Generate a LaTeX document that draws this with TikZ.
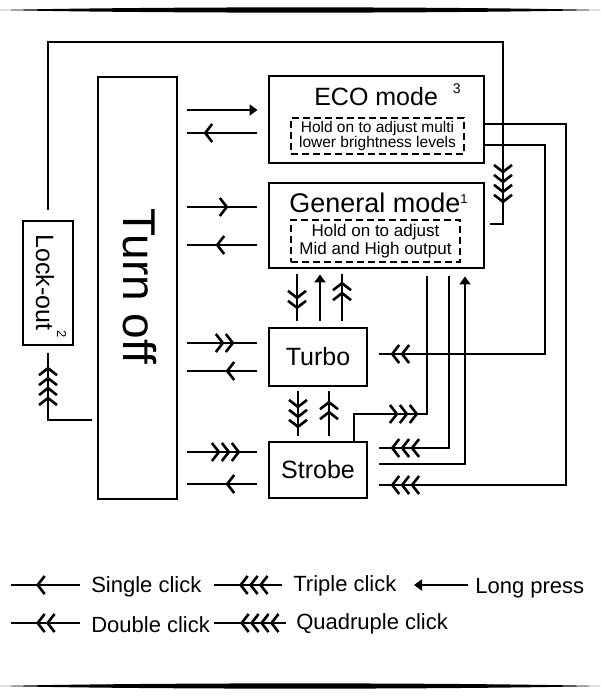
\documentclass[tikz,border=0pt]{standalone}
\usepackage{fontspec}
\setmainfont{Liberation Sans}
\usetikzlibrary{arrows.meta,decorations.markings}

\tikzset{
  box/.style={draw,line width=2.9pt,inner sep=0pt},
  hold/.style={draw,dash pattern=on 7pt off 4pt,line width=2.6pt,align=center,inner sep=0pt},
  clk/.style 2 args={postaction={decorate,decoration={markings,mark=at position #1 with {\arrow{#2}}}}},
  lp/.style={-{Triangle[length=8pt,width=11pt]}},
  fw/.style={shorten <=9pt,shorten >=11pt},
  bw/.style={shorten <=11pt,shorten >=9pt},
  legend/.style={anchor=base west,inner sep=0pt,font=\fontsize{22}{26}\selectfont},
}

\begin{document}
\begin{tikzpicture}[x=1pt,y=-1pt,line width=2.6pt,>={Straight Barb[length=7pt,width=18pt,sep=0pt]}]
\useasboundingbox (0,0) rectangle (600,696);
% rules
\fill (0,10) .. controls (150,6.5) and (450,6.5) .. (600,10) .. controls (450,13.5) and (150,13.5) .. (0,10) -- cycle;
\fill (0,686) .. controls (150,682.5) and (450,682.5) .. (600,686) .. controls (450,689.5) and (150,689.5) .. (0,686) -- cycle;

% boxes
\node[box,minimum width=79pt,minimum height=422pt] (turnoff) at (137.5,288) {};
\node[rotate=-90,anchor=base west,inner sep=0pt,font=\fontsize{46}{50}\selectfont] (toff) at (123,207) {Turn off};
\node[box,minimum width=50pt,minimum height=124pt] (lockout) at (48,283) {};
\node[rotate=-90,anchor=base west,inner sep=0pt,font=\fontsize{25}{30}\selectfont] (lock) at (36,233) {Lock-out\raisebox{21pt}{\fontsize{13}{13}\selectfont 2}};
\node[box,minimum width=215pt,minimum height=87pt] (eco) at (376.5,119.5) {};
\node[anchor=base west,inner sep=0pt,font=\fontsize{25}{30}\selectfont] (ecot) at (313,105) {ECO mode\hspace{15pt}\raisebox{12pt}{\fontsize{14}{14}\selectfont 3}};
\node[hold,minimum width=173pt,minimum height=36pt,font=\fontsize{15.5}{14.5}\selectfont] (ecoh) at (377.5,136) {Hold on to adjust multi\\lower brightness levels};
\node[box,minimum width=215pt,minimum height=85pt] (general) at (376.5,225.5) {};
\node[anchor=base west,inner sep=0pt,font=\fontsize{27}{32}\selectfont] (gent) at (288,212) {General mode\raisebox{9pt}{\fontsize{13}{13}\selectfont 1}};
\node[hold,minimum width=169pt,minimum height=42pt,font=\fontsize{17}{18}\selectfont] (genh) at (375.5,241) {Hold on to adjust\\Mid and High output};
\node[box,minimum width=98pt,minimum height=58pt,font=\fontsize{25}{30}\selectfont] (turbo) at (318,357) {Turbo};
\node[box,minimum width=98pt,minimum height=56pt,font=\fontsize{25}{30}\selectfont] (strobe) at (318,470) {Strobe};

% turn off <-> modes
\draw[lp,shorten <=9pt,shorten >=10pt] (turnoff.east |- 0,110) -- (eco.west |- 0,110);
\draw[bw,clk={64pt}{>}] (eco.west |- 0,133) -- (turnoff.east |- 0,133);
\draw[fw,clk={50pt}{>}] (turnoff.east |- 0,207) -- (general.west |- 0,207);
\draw[bw,clk={52pt}{>}] (general.west |- 0,245) -- (turnoff.east |- 0,245);
\draw[fw,clk={56pt}{>>}] (turnoff.east |- 0,343) -- (turbo.west |- 0,343);
\draw[bw,clk={42pt}{>}] (turbo.west |- 0,371) -- (turnoff.east |- 0,371);
\draw[fw,clk={62pt}{>>>}] (turnoff.east |- 0,452) -- (strobe.west |- 0,452);
\draw[bw,clk={42pt}{>}] (strobe.west |- 0,484) -- (turnoff.east |- 0,484);

% general, turbo, strobe
\draw[shorten <=5pt,shorten >=6pt,clk={40pt}{>>}] (general.south -| 297,0) -- (turbo.north -| 297,0);
\draw[lp,shorten <=6pt,shorten >=5pt] (turbo.north -| 320,0) -- (general.south -| 320,0);
\draw[shorten <=6pt,shorten >=5pt,clk={45pt}{>>}] (turbo.north -| 342,0) -- (general.south -| 342,0);
\draw[shorten <=4pt,shorten >=5pt,clk={41pt}{>>>}] (turbo.south -| 298,0) -- (strobe.north -| 298,0);
\draw[shorten <=5pt,shorten >=4pt,clk={40pt}{>>}] (strobe.north -| 329,0) -- (turbo.south -| 329,0);

% right side loops
\draw[shorten >=7pt,clk={91pt}{>>>}] (strobe.north -| 354,0) |- (427,414) -- (general.south -| 427,0);
\draw[shorten <=7pt,shorten >=11pt,clk={237pt}{>>>}] (general.south -| 449,0) |- (strobe.east |- 0,448);
\draw[lp,shorten <=11pt,shorten >=7pt] (strobe.east |- 0,464) -| (general.south -| 465,0);
\draw[shorten >=11pt,clk={423pt}{>>}] (eco.east |- 0,145) -| (545,354) -- (turbo.east |- 0,354);
\draw[shorten >=11pt,clk={617pt}{>>>}] (eco.east |- 0,124) -| (566,485) -- (strobe.east |- 0,485);

% lock-out
\draw[shorten <=10pt,shorten >=5pt,clk={794pt}{>>>>}] (lockout.north) |- (503,42) |- (general.east |- 0,224);
\draw[shorten <=5pt,shorten >=7pt,clk={102pt}{>>>>}] (turnoff.west |- 0,420) -| (lockout.south);

% legend
\coordinate (s1) at (80,585); \coordinate (s2) at (11,585);
\draw[clk={44pt}{>}] (s1) -- (s2);
\node[legend] (lsingle) at (90,592) {Single click};
\coordinate (t1) at (282,585); \coordinate (t2) at (214,585);
\draw[clk={43pt}{>>>}] (t1) -- (t2);
\node[legend] (ltriple) at (292,591) {Triple click};
\coordinate (p1) at (468,585); \coordinate (p2) at (414,585);
\draw[lp] (p1) -- (p2);
\node[legend] (llong) at (474,593) {Long press};
\coordinate (d1) at (80,623); \coordinate (d2) at (11,623);
\draw[clk={44pt}{>>}] (d1) -- (d2);
\node[legend] (ldouble) at (90,632) {Double click};
\coordinate (q1) at (286,623); \coordinate (q2) at (214,623);
\draw[clk={46pt}{>>>>}] (q1) -- (q2);
\node[legend] (lquad) at (295,629) {Quadruple click};
\end{tikzpicture}
\end{document}
